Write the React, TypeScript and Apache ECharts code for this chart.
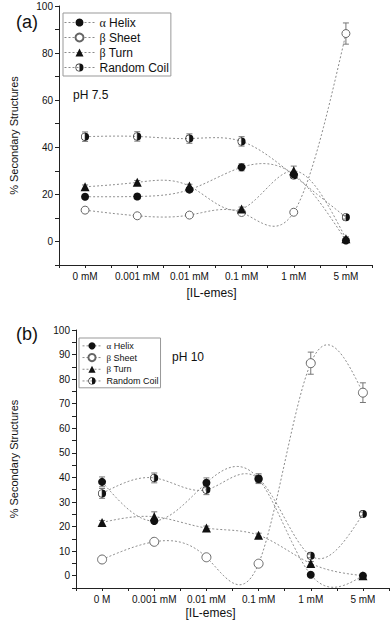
import React, { useEffect, useRef } from 'react';
import * as echarts from 'echarts';

// ---- data ----
const names = ['α Helix', 'β Sheet', 'β Turn', 'Random Coil'];

const catsA = ['0 mM', '0.001 mM', '0.01 mM', '0.1 mM', '1 mM', '5 mM'];
const alphaA = [19, 19.1, 22, 31.5, 28.5, 0.4];
const sheetA = [13.3, 10.9, 11.2, 12.3, 12.4, 88.3];
const turnA = [23.2, 25.1, 23.5, 13.8, 30, 1.2];
const coilA = [44.5, 44.6, 43.7, 42.5, 28, 10.3];
const alphaErrA = [1, 1, 1, 1.5, 1, 0.5];
const sheetErrA = [0.8, 0.8, 0.8, 0.8, 0.8, 4.5];
const turnErrA = [0.8, 0.8, 0.8, 0.8, 2, 0.8];
const coilErrA = [2, 2, 2, 2, 1, 0.8];

const catsB = ['0 M', '0.001 mM', '0.01 mM', '0.1 mM', '1 mM', '5 mM'];
const alphaB = [38.2, 22.3, 37.8, 39.4, 0.4, 0];
const sheetB = [6.6, 13.8, 7.5, 4.9, 86.5, 74.5];
const turnB = [21.7, 24, 19.4, 16.5, 5, 0];
const coilB = [33.5, 39.8, 35, 39.5, 8.1, 25.1];
const alphaErrB = [2, 1, 2, 1.5, 0.5, 0.5];
const sheetErrB = [0.8, 0.8, 0.8, 0.8, 4.5, 4];
const turnErrB = [0.8, 2, 0.8, 0.8, 0.8, 0.5];
const coilErrB = [2, 2, 2, 2, 0.8, 0.8];

const HALF = 'path://M10 0A10 10 0 0 1 10 20A10 10 0 0 1 10 0ZM10 1.6A8.4 8.4 0 0 0 10 18.4Z';
const FONT = '"Liberation Sans", Arial, sans-serif';
const CURVE = '#8a8a8a';
const ERR = '#777';

// natural cubic spline through pixel points (uniform x)
function splinePoints(pts: number[][]): number[][] {
  const n = pts.length;
  if (n < 3) return pts;
  const h = pts[1][0] - pts[0][0];
  const m = n - 2;
  const d: number[] = [];
  for (let i = 1; i <= n - 2; i++) {
    d.push((6 * (pts[i - 1][1] - 2 * pts[i][1] + pts[i + 1][1])) / (h * h));
  }
  const cp: number[] = new Array(m).fill(0);
  const dp: number[] = new Array(m).fill(0);
  cp[0] = 1 / 4;
  dp[0] = d[0] / 4;
  for (let i = 1; i < m; i++) {
    const den = 4 - cp[i - 1];
    cp[i] = 1 / den;
    dp[i] = (d[i] - dp[i - 1]) / den;
  }
  const inner: number[] = new Array(m).fill(0);
  inner[m - 1] = dp[m - 1];
  for (let i = m - 2; i >= 0; i--) inner[i] = dp[i] - cp[i] * inner[i + 1];
  const M = [0, ...inner, 0];
  const out: number[][] = [];
  const steps = 30;
  for (let i = 0; i < n - 1; i++) {
    const [x0, y0] = pts[i];
    const y1 = pts[i + 1][1];
    for (let s = 0; s <= steps; s++) {
      if (i > 0 && s === 0) continue;
      const t = s / steps;
      const u = 1 - t;
      const y = u * y0 + t * y1 + ((h * h) / 6) * ((u * u * u - u) * M[i] + (t * t * t - t) * M[i + 1]);
      out.push([x0 + t * h, y]);
    }
  }
  return out;
}

const markerStyles = [
  { symbol: 'circle', size: 8, itemStyle: { color: '#111', borderWidth: 0 } },
  { symbol: 'circle', size: 8, itemStyle: { color: '#fff', borderColor: '#666', borderWidth: 1 } },
  { symbol: 'triangle', size: 9, itemStyle: { color: '#111', borderWidth: 0 } },
  { symbol: HALF, size: 8, itemStyle: { color: '#111', borderWidth: 0 } },
];

function buildSeries(gi: number, sets: number[][], errs: number[][]) {
  const out: any[] = [];
  sets.forEach((vals) => {
    out.push({
      type: 'custom',
      xAxisIndex: gi,
      yAxisIndex: gi,
      silent: true,
      z: 1,
      data: vals.map((v, i) => [i, v]),
      encode: { x: 0, y: 1 },
      renderItem: (params: any, api: any) => {
        if (params.dataIndex !== 0) return null;
        const px = vals.map((v, i) => api.coord([i, v]));
        return {
          type: 'polyline',
          shape: { points: splinePoints(px) },
          style: { stroke: CURVE, lineWidth: 1, lineDash: [2, 2], fill: null },
        };
      },
    });
  });
  sets.forEach((vals, k) => {
    out.push({
      type: 'custom',
      xAxisIndex: gi,
      yAxisIndex: gi,
      silent: true,
      z: 2,
      data: vals.map((v, i) => [i, v, errs[k][i]]),
      encode: { x: 0, y: 1 },
      renderItem: (params: any, api: any) => {
        const x = api.value(0);
        const y = api.value(1);
        const e = api.value(2);
        const t = api.coord([x, y + e]);
        const b = api.coord([x, y - e]);
        const cw = 3;
        const st = { stroke: ERR, lineWidth: 1 };
        return {
          type: 'group',
          children: [
            { type: 'line', shape: { x1: t[0], y1: t[1], x2: b[0], y2: b[1] }, style: st },
            { type: 'line', shape: { x1: t[0] - cw, y1: t[1], x2: t[0] + cw, y2: t[1] }, style: st },
            { type: 'line', shape: { x1: b[0] - cw, y1: b[1], x2: b[0] + cw, y2: b[1] }, style: st },
          ],
        };
      },
    });
  });
  sets.forEach((vals, k) => {
    const ms = markerStyles[k];
    out.push({
      type: 'line',
      name: names[k],
      xAxisIndex: gi,
      yAxisIndex: gi,
      data: vals.map((v, i) => [i, v]),
      symbol: ms.symbol,
      symbolSize: gi === 1 && k === 1 ? 9 : ms.size,
      showSymbol: true,
      showAllSymbol: true,
      lineStyle: { width: 0, opacity: 0 },
      itemStyle: ms.itemStyle,
      z: 5,
      silent: true,
    });
  });
  return out;
}

function xAxisCfg(gi: number, cats: string[], margin: number, nameGap: number, shift: number) {
  return {
    gridIndex: gi,
    type: 'value',
    min: -0.5,
    max: 5.5,
    interval: 0.5,
    axisLine: { show: true, onZero: false, lineStyle: { color: '#222', width: 1 } },
    axisTick: { show: true, length: 3, lineStyle: { color: '#222' } },
    splitLine: { show: false },
    axisLabel: {
      fontSize: 10,
      color: '#111',
      fontFamily: FONT,
      margin,
      showMinLabel: true,
      showMaxLabel: true,
      formatter: (v: number) => (Number.isInteger(v) && v >= 0 && v < cats.length ? cats[v] : ''),
    },
    name: '[IL-emes]',
    nameLocation: 'middle',
    nameGap,
    nameTextStyle: { fontSize: 12, color: '#111', fontFamily: FONT, padding: [0, shift * 2, 0, 0] },
  };
}

function yAxisCfg(gi: number, min: number, interval: number, labelStep: number, nameGap: number) {
  return {
    gridIndex: gi,
    type: 'value',
    min,
    max: 100,
    interval,
    axisLine: { show: true, onZero: false, lineStyle: { color: '#222', width: 1 } },
    axisTick: { show: true, length: 4, lineStyle: { color: '#222' } },
    splitLine: { show: false },
    axisLabel: {
      fontSize: 10,
      color: '#111',
      fontFamily: FONT,
      margin: 6,
      showMinLabel: true,
      showMaxLabel: true,
      formatter: (v: number) => (v >= 0 && v % labelStep === 0 ? String(v) : ''),
    },
    name: '% Secondary Structures',
    nameLocation: 'middle',
    nameGap,
    nameTextStyle: { fontSize: 11, color: '#111', fontFamily: FONT },
  };
}

function legendCfg(left: number, top: number, fontSize: number, itemWidth: number, itemHeight: number, lineHeight: number, padding: number[]) {
  return {
    data: names,
    orient: 'vertical',
    left,
    top,
    itemWidth,
    itemHeight,
    itemGap: 0,
    padding,
    selectedMode: false,
    borderColor: '#999',
    borderWidth: 1,
    backgroundColor: '#fff',
    lineStyle: { color: CURVE, width: 1, type: [2, 2], opacity: 1 },
    textStyle: {
      fontSize,
      color: '#111',
      fontFamily: FONT,
      lineHeight,
      rich: { g: { fontFamily: '"Liberation Serif", serif', fontSize, color: '#111' } },
    },
    formatter: (name: string) =>
      name[0] === 'α' || name[0] === 'β' ? `{g|${name[0]}}${name.slice(1)}` : name,
  };
}

export default function App() {
  const ref = useRef<HTMLDivElement>(null);
  useEffect(() => {
    if (!ref.current) return;
    const chart = echarts.init(ref.current, undefined, { renderer: 'svg' });
    const option: any = {
      animation: false,
      backgroundColor: '#fff',
      textStyle: { fontFamily: FONT },
      grid: [
        { left: 52, top: 6, width: 320, height: 259 },
        { left: 69, top: 330, width: 321, height: 258 },
      ],
      xAxis: [xAxisCfg(0, catsA, 6, 22, 4), xAxisCfg(1, catsB, 6, 19, 22)],
      yAxis: [yAxisCfg(0, -10, 10, 20, 40), yAxisCfg(1, -5, 5, 10, 57)],
      legend: [
        legendCfg(63, 13, 12, 30, 10, 15, [2, 2, 1, 1]),
        legendCfg(79, 338, 9, 19, 9, 11.7, [2, 2, 1, 3]),
      ],
      graphic: [
        { type: 'text', left: 16, top: 13, style: { text: '(a)', fontSize: 18, fill: '#111', fontFamily: FONT } },
        { type: 'text', left: 73, top: 89, style: { text: 'pH 7.5', fontSize: 12, fill: '#111', fontFamily: FONT } },
        { type: 'text', left: 16, top: 325, style: { text: '(b)', fontSize: 18, fill: '#111', fontFamily: FONT } },
        { type: 'text', left: 172, top: 351, style: { text: 'pH 10', fontSize: 12, fill: '#111', fontFamily: FONT } },
      ],
      series: [
        ...buildSeries(0, [alphaA, sheetA, turnA, coilA], [alphaErrA, sheetErrA, turnErrA, coilErrA]),
        ...buildSeries(1, [alphaB, sheetB, turnB, coilB], [alphaErrB, sheetErrB, turnErrB, coilErrB]),
      ],
    };
    chart.setOption(option);
    return () => chart.dispose();
  }, []);
  return (
    <div
      ref={ref}
      style={{ position: 'fixed', left: 0, top: 0, width: 392, height: 623, background: '#fff' }}
    />
  );
}
